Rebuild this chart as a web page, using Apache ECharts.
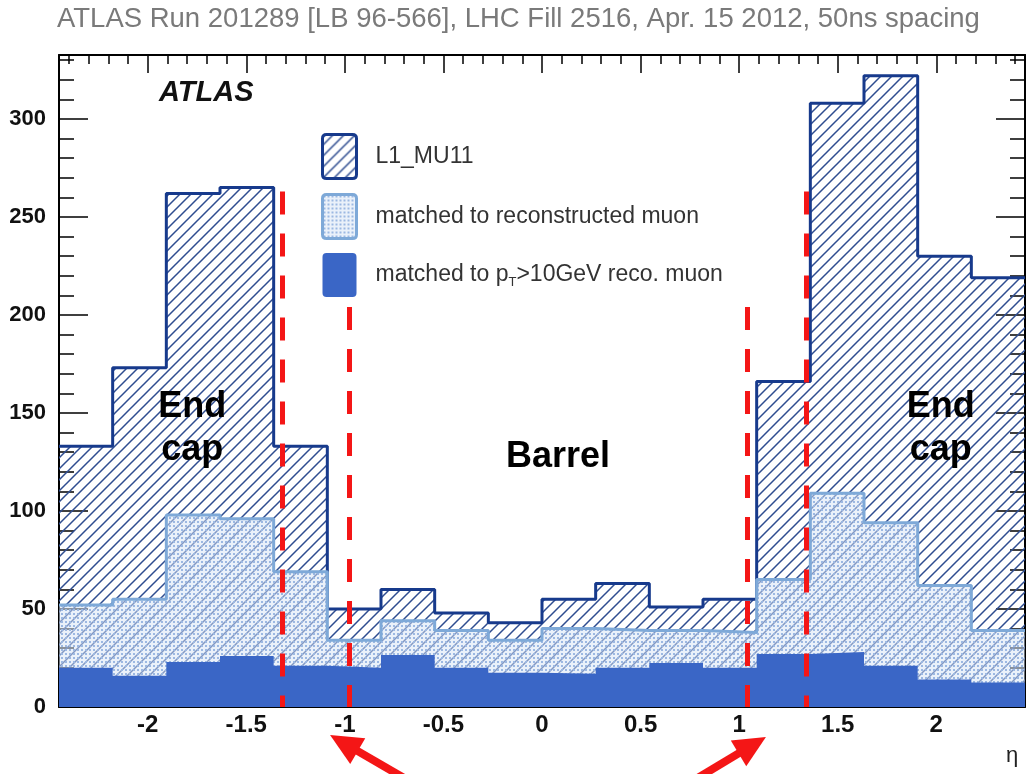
<!DOCTYPE html>
<html><head><meta charset="utf-8">
<script src="https://cdn.jsdelivr.net/npm/echarts@6/dist/echarts.min.js"></script>
<style>html,body{margin:0;padding:0;background:#fff}#c{width:1027px;height:774px}</style>
</head><body><div id="c"></div>
<script>
// ---- data ----
const binEdges = [-2.45,-2.1778,-1.9056,-1.6333,-1.3611,-1.0889,-0.8167,-0.5444,-0.2722,0,0.2722,0.5444,0.8167,1.0889,1.3611,1.6333,1.9056,2.1778,2.45];
const l1Counts   = [133,173,262,265,133,50,60,48,43,55,63,51,55,166,308,322,230,219];
const recoCounts = [52,55,98,96,69,34,44,39,34,40,39,39,38,65,109,94,62,39];
const pt10Counts = [20,16,23,26,21,20,26.5,20,17.5,17,20,22.5,20,27,28,21,14,12.5];
const seriesNames = ['L1_MU11','matched to reconstructed muon','matched to pT>10GeV reco. muon'];
const xMajorTicks = [-2,-1.5,-1,-0.5,0,0.5,1,1.5,2];
const yMajorTicks = [0,50,100,150,200,250,300];
const regionLineEta = [-1.32,-0.98,1.04,1.34];
const regionLineTop = [263,204,204,263];
const regionTexts = [
  {eta:-1.774, y:141.8, text:'End\ncap'},
  {eta:2.023, y:141.8, text:'End\ncap'},
  {eta:0.081, y:127.6, text:'Barrel'}
];
const arrowTips  = [[-1.075,-14.3],[1.136,-15.3]];
const arrowTails = [[-0.664,-38.3],[0.755,-38.3]];
const titleText = 'ATLAS Run 201289 [LB 96-566], LHC Fill 2516, Apr. 15 2012, 50ns spacing';

const xMinorTicks = []; for (let k=-24;k<=24;k++) xMinorTicks.push(k/10);
const yMinorTicks = []; for (let k=1;k<=33;k++) yMinorTicks.push(k*10);

function stepData(vals){
  const d = vals.map((v,i)=>[binEdges[i], v]);
  d.push([binEdges[binEdges.length-1], vals[vals.length-1]]);
  return d;
}
function hatchPattern(){
  const s=11, c=document.createElement('canvas'); c.width=s; c.height=s;
  const g=c.getContext('2d'); g.strokeStyle='#2f4d90'; g.lineWidth=1.5;
  g.beginPath(); g.moveTo(-1,s+1); g.lineTo(s+1,-1);
  g.moveTo(-2,2); g.lineTo(2,-2); g.moveTo(s-2,s+2); g.lineTo(s+2,s-2); g.stroke();
  return {image:c, repeat:'repeat'};
}
function dotPattern(){
  const s=4, c=document.createElement('canvas'); c.width=s; c.height=s;
  const g=c.getContext('2d'); g.fillStyle='rgba(214,228,246,0.5)'; g.fillRect(0,0,s,s);
  g.fillStyle='#9cb8e2'; g.fillRect(1,1,2,2);
  return {image:c, repeat:'repeat'};
}
const hatch = hatchPattern(), dots = dotPattern();
const C_L1='#173a8c', C_RECO='#7ea9d8', C_PT='#3a66c6', C_RED='#f41616';
const FONT='Liberation Sans';
const boxIcon='path://M4,0 H30 Q34,0 34,4 V40 Q34,44 30,44 H4 Q0,44 0,40 V4 Q0,0 4,0 Z';

function mkX(pos, ticks, len, showLine, showLabel){
  return {type:'value', min:-2.45, max:2.45, position:pos,
    axisLine:{show:showLine, onZero:false, lineStyle:{color:'#000', width:2}},
    axisTick:{show:true, inside:true, length:len, customValues:ticks, lineStyle:{color:'#000', width:1.5}},
    axisLabel:{show:showLabel, customValues:xMajorTicks, margin:6, fontSize:24, fontWeight:'bold', color:'#111', fontFamily:FONT},
    splitLine:{show:false}};
}
function mkY(pos, ticks, len, showLine, showLabel){
  return {type:'value', min:0, max:332.6, position:pos,
    axisLine:{show:showLine, onZero:false, lineStyle:{color:'#000', width:2}},
    axisTick:{show:true, inside:true, length:len, customValues:ticks, lineStyle:{color:'#000', width:1.5}},
    axisLabel:{show:showLabel, customValues:yMajorTicks, margin:13, fontSize:22, fontWeight:'bold', color:'#111', fontFamily:FONT},
    splitLine:{show:false}};
}

const chart = echarts.init(document.getElementById('c'), null, {renderer:'canvas'});
chart.setOption({
  animation:false,
  backgroundColor:'#fff',
  title:[
    {text:titleText, left:57, top:5, padding:0, textStyle:{color:'#7a7a7a', fontSize:27.5, fontWeight:'normal', fontFamily:FONT}},
    {text:'ATLAS', left:159, top:78, padding:0, textStyle:{color:'#111', fontSize:29, fontWeight:'bold', fontStyle:'italic', fontFamily:FONT}}
  ],
  grid:{left:59, right:2, top:55, bottom:67, outerBoundsMode:'none'},
  xAxis:[mkX('bottom', xMajorTicks, 20, true, true), mkX('bottom', xMinorTicks, 10, false, false),
         mkX('top', xMajorTicks, 18, true, false), mkX('top', xMinorTicks, 9, false, false)],
  yAxis:[mkY('left', yMajorTicks, 29, true, true), mkY('left', yMinorTicks, 15, false, false),
         mkY('right', yMajorTicks, 29, true, false), mkY('right', yMinorTicks, 15, false, false)],
  legend:{
    orient:'vertical', left:316, top:128, itemWidth:34, itemHeight:44, itemGap:13, selectedMode:false,
    textStyle:{fontSize:23, color:'#333', fontFamily:FONT, padding:[0,0,0,14],
      rich:{sub:{fontSize:13, color:'#333', fontFamily:FONT, padding:[14,0,0,0]}}},
    formatter:function(n){ return n===seriesNames[2] ? 'matched to p{sub|T}>10GeV reco. muon' : n; },
    data:[
      {name:seriesNames[0], icon:boxIcon, itemStyle:{color:hatch, borderColor:C_L1, borderWidth:3}},
      {name:seriesNames[1], icon:boxIcon, itemStyle:{color:dots, borderColor:C_RECO, borderWidth:3}},
      {name:seriesNames[2], icon:boxIcon, itemStyle:{color:C_PT, borderColor:C_PT, borderWidth:0}}
    ]
  },
  series:[
    {type:'line', name:seriesNames[0], step:'end', symbol:'none', silent:true, z:2,
     data:stepData(l1Counts), lineStyle:{color:C_L1, width:3}, itemStyle:{color:C_L1},
     areaStyle:{color:hatch, opacity:1}},
    {type:'line', name:seriesNames[1], step:'end', symbol:'none', silent:true, z:3,
     data:stepData(recoCounts), lineStyle:{color:C_RECO, width:3}, itemStyle:{color:C_RECO},
     areaStyle:{color:dots, opacity:1}},
    {type:'line', name:seriesNames[2], step:'end', symbol:'none', silent:true, z:4,
     data:stepData(pt10Counts), lineStyle:{width:0, color:C_PT}, itemStyle:{color:C_PT},
     areaStyle:{color:C_PT, opacity:1},
     markLine:{silent:true, symbol:['none','none'], label:{show:false}, animation:false,
       lineStyle:{color:C_RED, width:5, type:[23,19]},
       emphasis:{disabled:true},
       data:regionLineEta.map((x,i)=>[{coord:[x, regionLineTop[i]]},{coord:[x,0]}])},
     markPoint:{silent:true, symbol:'circle', symbolSize:1, itemStyle:{color:'rgba(0,0,0,0)'}, animation:false,
       label:{show:true, position:'inside', color:'#000', fontSize:36, fontWeight:'bold', lineHeight:43, fontFamily:FONT},
       data:regionTexts.map(t=>({coord:[t.eta,t.y], value:0, label:{formatter:t.text}}))}
    }
  ]
});

// annotation arrows (positions from data coordinates)
const toPx = v => chart.convertToPixel({xAxisIndex:0, yAxisIndex:0}, v);
const graphics = [{type:'text', left:1006, top:745, style:{text:'η', fontSize:22, fill:'#222', fontFamily:FONT}}];
arrowTips.forEach((tp,i)=>{
  const T = toPx(tp), E = toPx(arrowTails[i]);
  const dx=E[0]-T[0], dy=E[1]-T[1], L=Math.hypot(dx,dy), ux=dx/L, uy=dy/L, px=-uy, py=ux;
  const HL=32, HW=15;
  const B=[T[0]+ux*HL, T[1]+uy*HL];
  graphics.push({type:'line', silent:true, shape:{x1:B[0]-ux*2, y1:B[1]-uy*2, x2:E[0], y2:E[1]}, style:{stroke:C_RED, lineWidth:8}});
  graphics.push({type:'polygon', silent:true, shape:{points:[T,[B[0]+px*HW,B[1]+py*HW],[B[0]-px*HW,B[1]-py*HW]]}, style:{fill:C_RED}});
});
chart.setOption({graphic:graphics});
</script></body></html>
